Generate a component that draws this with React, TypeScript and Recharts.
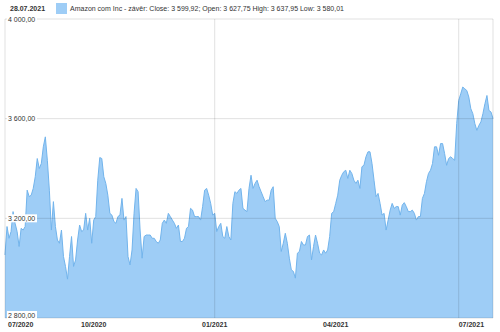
import React from "react";
import {AreaChart, Area, XAxis, YAxis, ReferenceLine} from "recharts";

// closing prices, one per trading day (28.07.2020 - 28.07.2021)
const closes: number[] = [
    3053, 3167, 3120, 3147, 3227, 3180, 3147, 3087, 3160, 3153,
    3167, 3313, 3287, 3293, 3320, 3367, 3440, 3400, 3420, 3487,
    3527, 3433, 3313, 3153, 3267, 3167, 3113, 3100, 3153, 3047,
    3007, 2956, 3047, 3127, 3007, 3033, 3113, 3173, 3147, 3153,
    3220, 3153, 3200, 3100, 3193, 3207, 3353, 3444, 3440, 3367,
    3340, 3293, 3220, 3213, 3187, 3180, 3207, 3213, 3280, 3193,
    3207, 3047, 3013, 3073, 3220, 3320, 3307, 3153, 3040, 3127,
    3133, 3133, 3133, 3120, 3120, 3107, 3100, 3113, 3180, 3193,
    3180, 3220, 3207, 3193, 3180, 3160, 3173, 3107, 3107, 3120,
    3160, 3167, 3240, 3233, 3207, 3207, 3207, 3193, 3247, 3313,
    3320, 3293, 3260, 3213, 3220, 3147, 3167, 3180, 3127, 3120,
    3167, 3127, 3113, 3260, 3307, 3300, 3313, 3320, 3240, 3233,
    3227, 3320, 3373, 3320, 3340, 3353, 3327, 3307, 3287, 3267,
    3273, 3273, 3313, 3327, 3200, 3187, 3167, 3067, 3100, 3140,
    3100, 3040, 2993, 2987, 2960, 3060, 3067, 3107, 3093, 3093,
    3127, 3133, 3033, 3087, 3133, 3100, 3060, 3053, 3073, 3060,
    3073, 3127, 3220, 3227, 3260, 3293, 3353, 3373, 3387, 3393,
    3360, 3393, 3380, 3353, 3340, 3353, 3320, 3407, 3413, 3447,
    3467, 3467, 3420, 3353, 3287, 3300, 3260, 3213, 3220, 3153,
    3193, 3233, 3260, 3240, 3247, 3247, 3213, 3253, 3263, 3247,
    3227, 3227, 3233, 3220, 3193, 3207, 3207, 3280, 3300, 3347,
    3380, 3393, 3420, 3487, 3487, 3453, 3500, 3500, 3460, 3413,
    3440, 3447, 3440, 3433, 3580, 3673, 3700, 3727, 3720, 3713,
    3687, 3640, 3620, 3580, 3553, 3573, 3587, 3620, 3660, 3693,
    3633, 3627, 3599.92,
];

const monthTicks = [0, 44, 104, 164, 225];
const monthLabels = ["07/2020", "10/2020", "01/2021", "04/2021", "07/2021"];
const halfYearLines = [104, 225];
const priceTicks = [2800, 3200, 3600, 4000];

const lastDate = "28.07.2021";
const legendText = "Amazon com Inc - závěr: Close: 3 599,92; Open: 3 627,75 High: 3 637,95 Low: 3 580,01";

const data = closes.map((close, i) => ({i, close}));

const FONT = "'Liberation Sans', Arial, sans-serif";
const fmt = (v: number) => v.toFixed(2).replace(".", ",").replace(/^(\d)(\d{3})/, "$1 $2");

const MonthTick = (props: any) => {
    const {x, payload, index} = props;
    const anchor = index === 0 || index === monthTicks.length - 1 ? "start" : "middle";
    const dx = index === 0 ? 3 : 0;
    return (
        <text x={x + dx} y={327} textAnchor={anchor} fontSize={7} fontWeight="bold" fill="#333" fontFamily={FONT}>
            {monthLabels[monthTicks.indexOf(payload.value)]}
        </text>
    );
};

const PriceLabel = ({viewBox, value}: any) => {
    const {x, y} = viewBox;
    const cy = value === priceTicks[0] ? y - 3 : y;
    return (
        <g>
            <rect x={x + 2} y={cy - 4} width={30} height={8} fill="#fff" />
            <text x={x + 3} y={cy + 2.5} fontSize={7} fill="#333" fontFamily={FONT}>{fmt(value)}</text>
        </g>
    );
};

export default function App() {
    return (
        <div style={{position: "fixed", left: 0, top: 0, width: 500, height: 332, background: "#fff"}}>
            <div style={{position: "absolute", left: 10, top: 3, fontFamily: FONT, fontSize: 7, color: "#333", display: "flex", alignItems: "center", whiteSpace: "nowrap"}}>
                <span style={{fontWeight: "bold", width: 46}}>{lastDate}</span>
                <span style={{width: 11, height: 11, background: "#9ecdf6", marginRight: 3}} />
                <span>{legendText}</span>
            </div>
            <AreaChart width={500} height={332} data={data} margin={{top: 19, right: 7, left: 5, bottom: 0}}>
                <XAxis dataKey="i" type="number" domain={[0, closes.length - 1]} ticks={monthTicks}
                       tick={<MonthTick />} axisLine={false} tickLine={false} height={14} interval={0} />
                <YAxis hide domain={[2800, 4000]} ticks={priceTicks} />
                <Area type="linear" dataKey="close" stroke="#72b4ec" strokeWidth={1} fill="#9ecdf6"
                      fillOpacity={1} isAnimationActive={false} baseValue={2800} />
                <ReferenceLine x={0} stroke="#000" strokeOpacity={0.12} />
                <ReferenceLine x={closes.length - 1} stroke="#000" strokeOpacity={0.12} />
                {halfYearLines.map((v) => (
                    <ReferenceLine key={v} x={v} stroke="#000" strokeOpacity={0.12} />
                ))}
                {priceTicks.map((v) => (
                    <ReferenceLine key={v} y={v} stroke="#000" strokeOpacity={0.12}
                                   label={(p: any) => <PriceLabel {...p} value={v} />} />
                ))}
            </AreaChart>
        </div>
    );
}
